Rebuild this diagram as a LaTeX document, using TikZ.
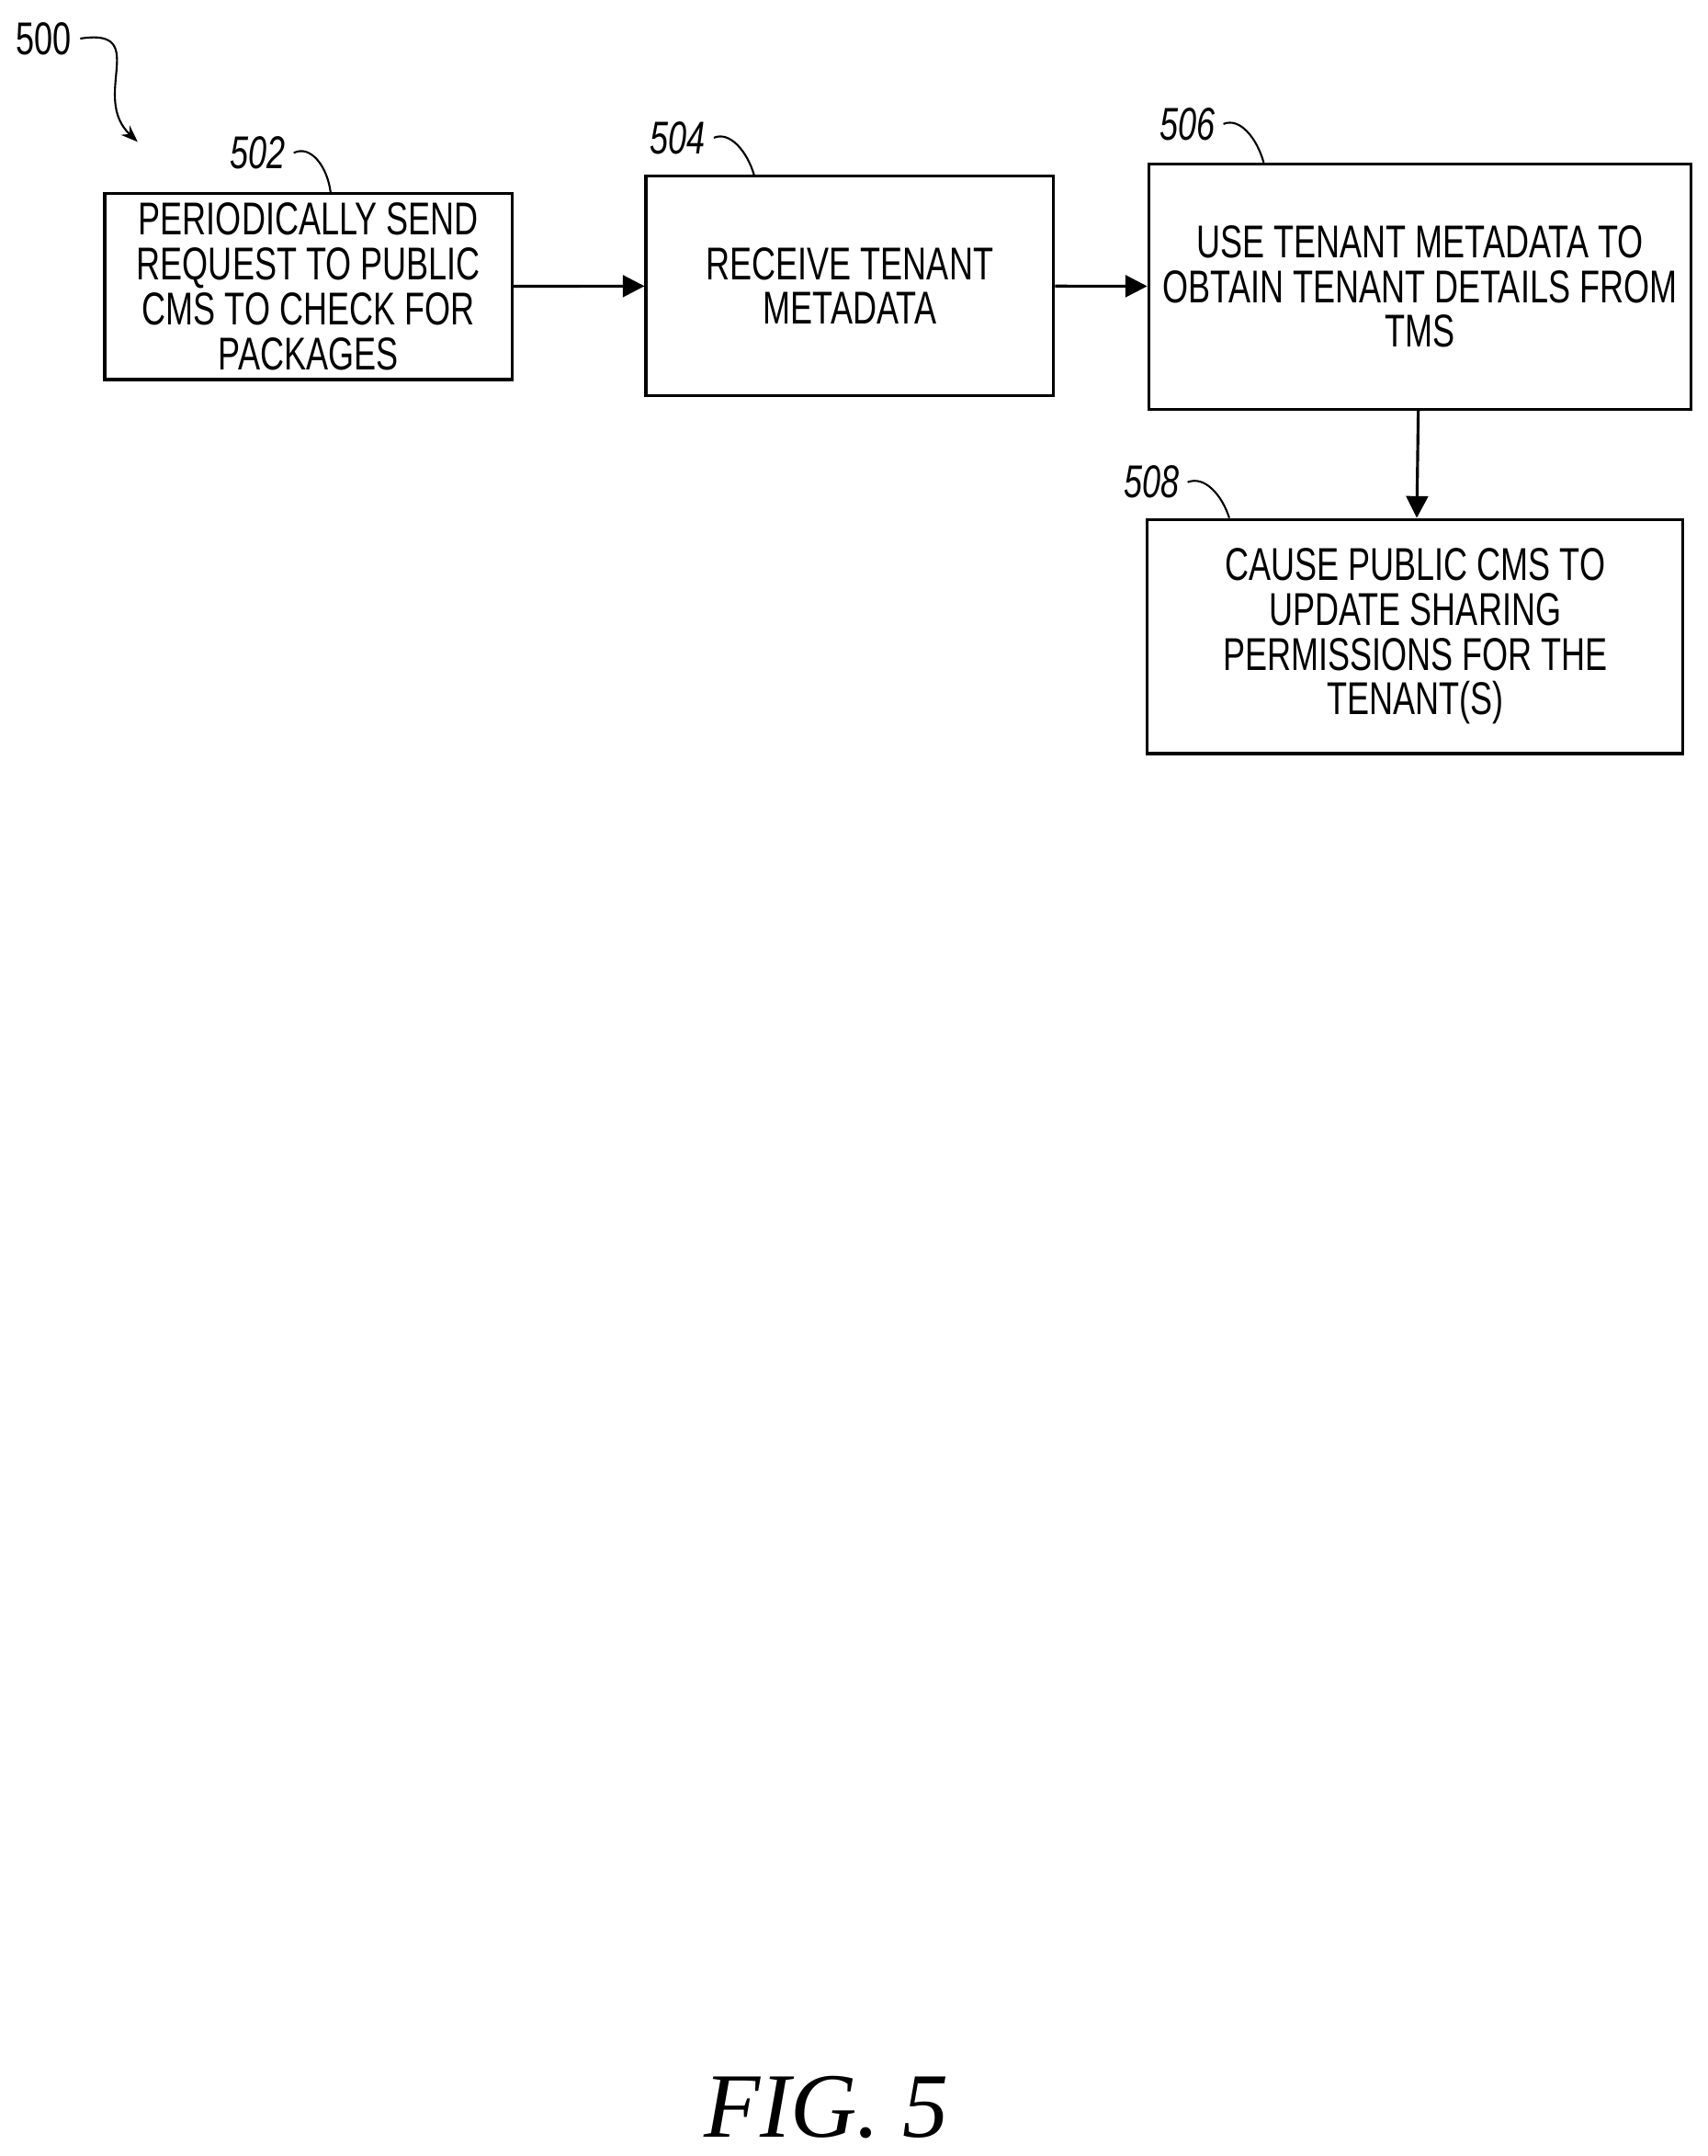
\documentclass[tikz,border=0pt]{standalone}
\usepackage{fontspec}
\setmainfont{Liberation Sans}[FakeStretch=0.72]
\newfontfamily\figfont{Liberation Serif}
\usetikzlibrary{arrows.meta}
\tikzset{
  flowbox/.style={draw, line width=1.2pt, align=center, inner sep=1pt,
    font=\fontsize{19}{18.5}\selectfont},
  num/.style={font=\itshape\fontsize{19}{19}\selectfont},
  flow/.style={-{Triangle[length=9pt,width=9pt]}, line width=1.2pt}
}
\begin{document}
\begin{tikzpicture}
        \useasboundingbox (0,0) rectangle (24.8,-31.3);
        \node[flowbox, minimum width=5.92cm, minimum height=2.7cm] (s502) at (4.48,-4.16) {PERIODICALLY SEND\\REQUEST TO PUBLIC\\CMS TO CHECK FOR\\PACKAGES};
        \node[flowbox, minimum width=5.92cm, minimum height=3.18cm] (s504) at (12.34,-4.15) {RECEIVE TENANT\\METADATA};
        \node[flowbox, minimum width=7.88cm, minimum height=3.56cm] (s506) at (20.62,-4.16) {USE TENANT METADATA TO\\OBTAIN TENANT DETAILS FROM\\TMS};
        \node[flowbox, minimum width=7.78cm, minimum height=3.4cm] (s508) at (20.55,-9.24) {CAUSE PUBLIC CMS TO\\UPDATE SHARING\\PERMISSIONS FOR THE\\TENANT(S)};

        \node[num] (l502) at (3.74,-2.22) {502};
        \node[num] (l504) at (9.84,-2.0) {504};
        \node[num] (l506) at (17.24,-1.8) {506};
        \node[num] (l508) at (16.72,-7.0) {508};
        \node[font=\fontsize{19}{19}\selectfont] (l500) at (0.64,-0.56) {500};
        \coordinate (t500) at (2.0,-2.06);

        \draw[line width=0.8pt] (l502.east) .. controls (4.5,-2.1) and (4.75,-2.4) .. (s502.north -| 4.8,0);
        \draw[line width=0.8pt] (l504.east) .. controls (10.6,-1.9) and (10.85,-2.2) .. (s504.north -| 10.95,0);
        \draw[line width=0.8pt] (l506.east) .. controls (18.0,-1.7) and (18.25,-2.0) .. (s506.north -| 18.35,0);
        \draw[line width=0.8pt] (l508.east) .. controls (17.5,-6.9) and (17.75,-7.2) .. (s508.north -| 17.85,0);
        \draw[line width=0.8pt, -{Stealth[length=7pt]}] (l500.east) .. controls (2.2,-0.4) and (1.3,-1.4) .. (t500);

        \draw[flow] (s502) -- (s504);
        \draw[flow] (s504) -- (s506);
        \draw[flow] (s506) -- (s508);

        \node[font=\figfont\itshape\fontsize{38}{38}\selectfont] (fig) at (12.0,-30.6) {FIG. 5};
\end{tikzpicture}
\end{document}
